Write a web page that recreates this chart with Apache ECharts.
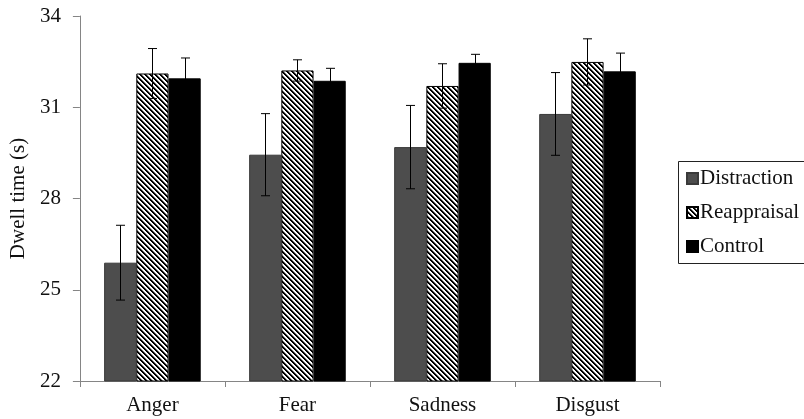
<!DOCTYPE html>
<html>
<head>
<meta charset="utf-8">
<script src="https://cdn.jsdelivr.net/npm/echarts@6/dist/echarts.min.js"></script>
<style>html,body{margin:0;padding:0;background:#fff}#c{width:804px;height:419px}</style>
</head>
<body>
<div id="c"></div>
<script>
const categories = ['Anger', 'Fear', 'Sadness', 'Disgust'];
const seriesNames = ['Distraction', 'Reappraisal', 'Control'];
const distraction = [25.89, 29.44, 29.69, 30.78];
const reappraisal = [32.11, 32.21, 31.70, 32.49];
const control = [31.95, 31.87, 32.46, 32.18];
const distractionErr = [1.23, 1.35, 1.37, 1.36];
const reappraisalErr = [0.82, 0.35, 0.73, 0.76];
const controlErr = [0.67, 0.41, 0.28, 0.60];
const yTicks = [22, 25, 28, 31, 34];

// hatch pattern "\" black on white
const pc = document.createElement('canvas');
pc.width = 5; pc.height = 5;
const pctx = pc.getContext('2d');
pctx.fillStyle = '#fff'; pctx.fillRect(0, 0, 5, 5);
for (let y = 0; y < 5; y++) {
  for (let x = 0; x < 5; x++) {
    const m = ((x - y) % 5 + 5) % 5;
    if (m === 0 || m === 1) { pctx.fillStyle = '#000'; pctx.fillRect(x, y, 1, 1); }
    else if (m === 2) { pctx.fillStyle = '#888'; pctx.fillRect(x, y, 1, 1); }
  }
}
const hatch = { image: pc, repeat: 'repeat' };

const FONT = 'Liberation Serif';
const BAR_FRAC = 0.222;
const values = [distraction, reappraisal, control];
const errs = [distractionErr, reappraisalErr, controlErr];
const styles = [
  { color: '#4d4d4d', borderColor: '#3a3a3a', borderWidth: 1 },
  { color: hatch, borderColor: '#000', borderWidth: 1 },
  { color: '#000', borderColor: '#000', borderWidth: 1 }
];

const series = [];
seriesNames.forEach((n, i) => {
  series.push({
    name: n, type: 'bar', data: values[i], barWidth: (BAR_FRAC * 100) + '%', barGap: '0%',
    itemStyle: styles[i], z: 2
  });
});
seriesNames.forEach((n, i) => {
  series.push({
    name: n + ' error', type: 'custom', z: 5,
    data: values[i].map((v, k) => [k, v, errs[i][k]]),
    encode: { x: 0, y: 1 },
    renderItem: function (params, api) {
      const cat = api.value(0), v = api.value(1), e = api.value(2);
      const band = api.size([1, 0])[0];
      const c = api.coord([cat, v]);
      const x = Math.round(c[0] + (i - 1) * band * BAR_FRAC) + 0.5;
      const t = api.coord([cat, v + e])[1];
      const b = api.coord([cat, v - e])[1];
      const hw = 4.5;
      const st = { stroke: '#000', lineWidth: 1 };
      return {
        type: 'group',
        children: [
          { type: 'line', shape: { x1: x, y1: t, x2: x, y2: b }, style: st },
          { type: 'line', shape: { x1: x - hw, y1: t, x2: x + hw, y2: t }, style: st },
          { type: 'line', shape: { x1: x - hw, y1: b, x2: x + hw, y2: b }, style: st }
        ]
      };
    }
  });
});

const chart = echarts.init(document.getElementById('c'), null, { renderer: 'canvas' });
chart.setOption({
  animation: false,
  backgroundColor: '#fff',
  grid: { left: 77, right: 144, top: 16, bottom: 38, containLabel: false },
  graphic: [{
    type: 'rect', z: 0,
    shape: { x: 678.5, y: 161.5, width: 200, height: 102 },
    style: { fill: null, stroke: '#222', lineWidth: 1 }
  }],
  legend: {
    data: seriesNames, orient: 'vertical', left: 678, top: 161,
    padding: [7, 10, 6, 8],
    itemWidth: 11, itemHeight: 11, itemGap: 13, icon: 'rect',
    textStyle: { fontFamily: FONT, fontSize: 21, color: '#111', lineHeight: 21, padding: [0, 0, 0, -3] }
  },
  xAxis: {
    type: 'category', data: categories,
    axisLine: { lineStyle: { color: '#858585', width: 1 } },
    axisTick: { show: true, length: 6, lineStyle: { color: '#858585' } },
    axisLabel: { fontFamily: FONT, fontSize: 21, color: '#111', margin: 14 }
  },
  yAxis: {
    type: 'value', min: yTicks[0], max: yTicks[yTicks.length - 1], interval: 3,
    name: 'Dwell time (s)', nameLocation: 'middle', nameGap: 47,
    nameTextStyle: { fontFamily: FONT, fontSize: 21, color: '#111' },
    axisLine: { show: true, lineStyle: { color: '#858585', width: 1 } },
    axisTick: { show: true, length: 7, lineStyle: { color: '#858585' } },
    splitLine: { show: false },
    axisLabel: { fontFamily: FONT, fontSize: 21, color: '#111', margin: 19 }
  },
  series: series
});
</script>
</body>
</html>
